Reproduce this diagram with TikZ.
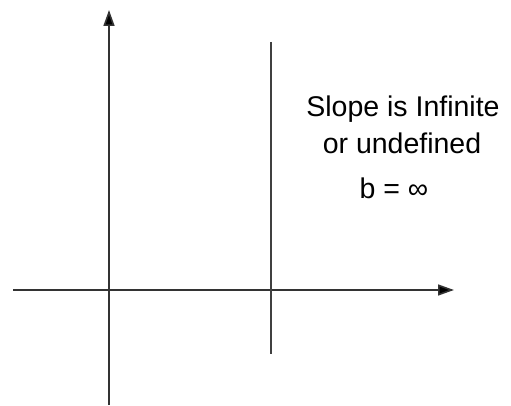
\documentclass[tikz,border=0pt]{standalone}
\usepackage{fontspec}
\setmainfont{Liberation Sans}
\usetikzlibrary{arrows.meta}
\begin{document}
\begin{tikzpicture}[x=1pt,y=-1pt,
  axis/.style={draw=black!80, line width=1.6pt, -{Triangle[length=16pt,width=11pt,fill=black]}},
  vline/.style={draw=black!75, line width=1.6pt},
  lbl/.style={anchor=base, inner sep=0pt, font=\fontsize{28.5}{34}\selectfont}]
\useasboundingbox (0,0) rectangle (511,406);
\coordinate (yb) at (109,405);
\coordinate (yt) at (109,10);
\coordinate (xl) at (13,290);
\coordinate (xr) at (454,290);
\coordinate (vt) at (271,42);
\coordinate (vb) at (271,354);
\draw[axis] (yb) -- (yt);
\draw[axis] (xl) -- (xr);
\draw[vline] (vt) -- (vb);
\node[lbl] (l1) at (403,117) {Slope is Infinite};
\node[lbl] (l2) at (402,154) {or undefined};
\node[lbl] (l3) at (394,198) {b = ∞};
\end{tikzpicture}
\end{document}
